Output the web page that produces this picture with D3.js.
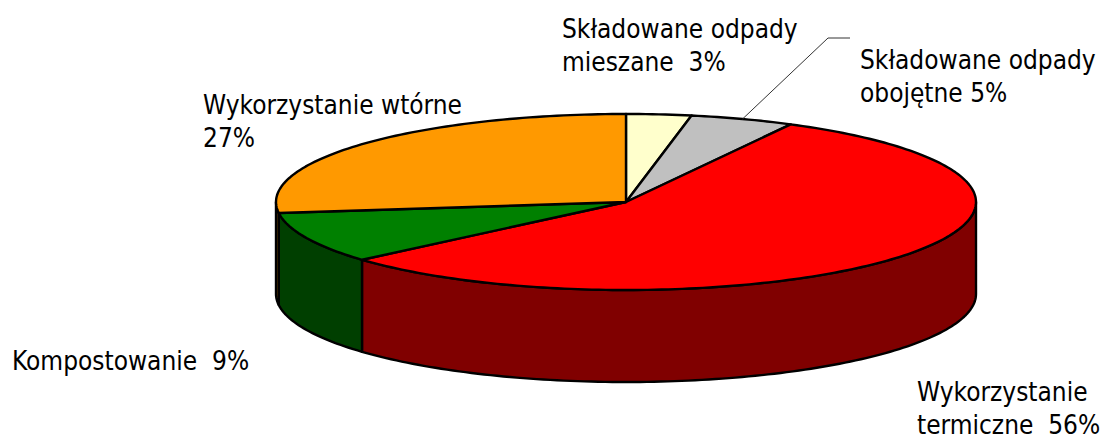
<!DOCTYPE html>
<html lang="pl">
<head>
    <meta charset="utf-8">
    <title>Odpady</title>
    <style>
        html, body { margin: 0; padding: 0; background: #fff; }
        svg { display: block; }
        text { font-family: "DejaVu Sans Condensed", "DejaVu Sans", sans-serif; font-stretch: condensed; font-size: 26px; fill: #000; }
    </style>
    <script src="https://cdn.jsdelivr.net/npm/d3@7"></script>
</head>
<body>
<div id="chart"></div>
<script>
    // clockwise from 12 o'clock, labels are the rounded figures
    var categories = ["Składowane odpady mieszane", "Składowane odpady obojętne", "Wykorzystanie termiczne", "Kompostowanie", "Wykorzystanie wtórne"];
    var values = [3, 4.8, 55.8, 9.4, 27];
    var topColors = ["#ffffcc", "#c0c0c0", "#ff0000", "#008000", "#ff9900"];
    var sideColors = ["#808066", "#606060", "#800000", "#003f00", "#804d00"];
    var labelLines = [
        ["Składowane odpady", "mieszane  3%"],
        ["Składowane odpady", "obojętne 5%"],
        ["Wykorzystanie", "termiczne  56%"],
        ["Kompostowanie  9%"],
        ["Wykorzystanie wtórne", "27%"]
    ];

    var width = 1105, height = 440;
    var cx = 626, cy = 202, rx = 350, ry = 88, depth = 92;

    // where each label sits, left edge + first baseline
    var labelPos = [[562, 38], [860, 69], [917, 401], [12, 370], [203, 114]];

    var svg = d3.select("#chart").append("svg")
        .attr("width", width)
        .attr("height", height);

    var x = d3.scaleLinear().domain([-1, 1]).range([cx - rx, cx + rx]);
    var y = d3.scaleLinear().domain([-1, 1]).range([cy - ry, cy + ry]);

    var pie = d3.pie().sort(null).value(function (d) { return d; });
    var slices = pie(values);

    // point on the flattened rim, angle measured clockwise from the top
    function rim(a, drop) {
        return [x(Math.sin(a)), y(-Math.cos(a)) + (drop || 0)];
    }

    function arcPoints(a0, a1, drop) {
        var n = Math.max(2, Math.ceil((a1 - a0) / 0.02)), pts = [];
        for (var i = 0; i <= n; i++) {
            pts.push(rim(a0 + (a1 - a0) * i / n, drop));
        }
        return pts;
    }

    var line = d3.line();

    // walls first: only the front half of the disc shows (pi/2 .. 3pi/2)
    var walls = svg.append("g").attr("class", "walls");
    slices.forEach(function (s, i) {
        var a0 = Math.max(s.startAngle, Math.PI / 2);
        var a1 = Math.min(s.endAngle, Math.PI * 3 / 2);
        if (a1 <= a0) return;
        var pts = arcPoints(a0, a1, 0).concat(arcPoints(a0, a1, depth).reverse());
        walls.append("path")
            .attr("d", line(pts) + "Z")
            .attr("fill", sideColors[i])
            .attr("stroke", "#000")
            .attr("stroke-width", 2.4)
            .attr("stroke-linejoin", "round");
    });

    // top faces
    var tops = svg.append("g").attr("class", "tops");
    slices.forEach(function (s, i) {
        var pts = [[cx, cy]].concat(arcPoints(s.startAngle, s.endAngle, 0));
        tops.append("path")
            .attr("d", line(pts) + "Z")
            .attr("fill", topColors[i])
            .attr("stroke", "#000")
            .attr("stroke-width", 2.4)
            .attr("stroke-linejoin", "round");
    });

    // leader line for the grey slice
    var grey = slices[1];
    var from = rim((grey.startAngle + grey.endAngle) / 2);
    svg.append("path")
        .attr("d", line([from, [828, 38], [850, 38]]))
        .attr("fill", "none")
        .attr("stroke", "#333")
        .attr("stroke-width", 1);

    // labels
    var labels = svg.append("g").attr("class", "labels");
    labelLines.forEach(function (lines, i) {
        var t = labels.append("text")
            .attr("x", labelPos[i][0])
            .attr("y", labelPos[i][1])
            .attr("data-category", categories[i]);
        lines.forEach(function (l, j) {
            t.append("tspan")
                .attr("x", labelPos[i][0])
                .attr("dy", j ? 33 : 0)
                .style("white-space", "pre")
                .text(l);
        });
    });
</script>
</body>
</html>
